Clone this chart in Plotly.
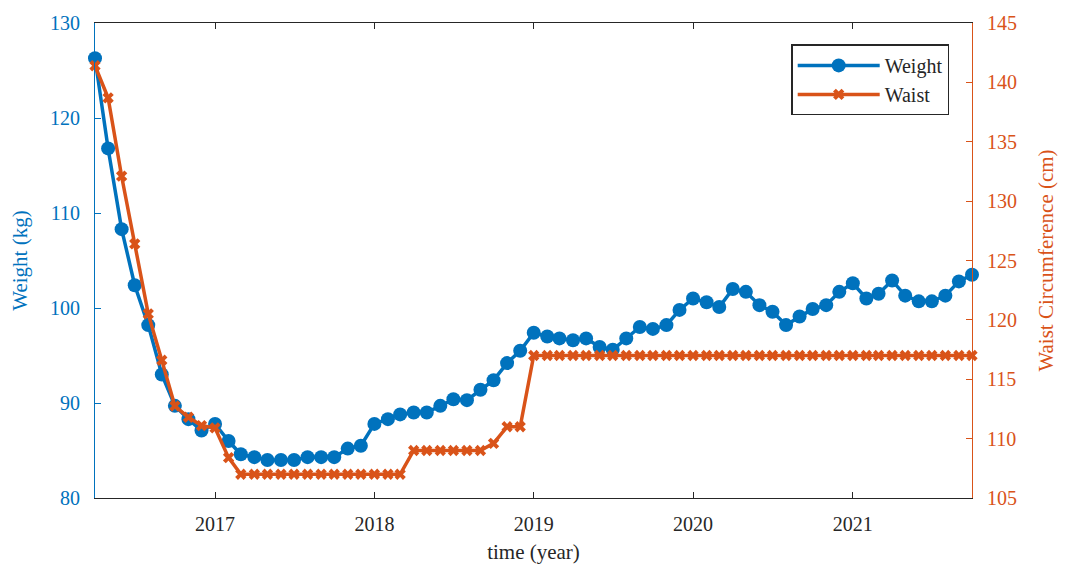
import pandas as pd
import plotly.graph_objects as go

# Monthly observations, April 2016 .. October 2021
months = pd.date_range("2016-04-01", periods=67, freq="MS")

weight_kg = [
    126.3, 116.8, 108.3, 102.4, 98.2, 93.0, 89.7, 88.3, 87.1, 87.8,
    86.0, 84.6, 84.3, 84.0, 84.0, 84.0, 84.3, 84.3, 84.3, 85.2,
    85.5, 87.8, 88.3, 88.8, 89.0, 89.0, 89.7, 90.4, 90.3, 91.4,
    92.4, 94.2, 95.5, 97.4, 97.0, 96.8, 96.6, 96.8, 95.9, 95.6,
    96.8, 98.0, 97.8, 98.2, 99.8, 101.0, 100.6, 100.1, 102.0, 101.7,
    100.3, 99.6, 98.2, 99.1, 99.9, 100.3, 101.7, 102.6, 101.0, 101.5,
    102.9, 101.3, 100.7, 100.7, 101.3, 102.8, 103.5,
]

waist_cm = [
    141.4, 138.7, 132.1, 126.4, 120.5, 116.6, 112.75, 111.8, 111.1, 110.9,
    108.4, 107.0, 107.0, 107.0, 107.0, 107.0, 107.0, 107.0, 107.0, 107.0,
    107.0, 107.0, 107.0, 107.0, 109.0, 109.0, 109.0, 109.0, 109.0, 109.0,
    109.6, 111.0, 111.0, 117.0, 117.0, 117.0, 117.0, 117.0, 117.0, 117.0,
    117.0, 117.0, 117.0, 117.0, 117.0, 117.0, 117.0, 117.0, 117.0, 117.0,
    117.0, 117.0, 117.0, 117.0, 117.0, 117.0, 117.0, 117.0, 117.0, 117.0,
    117.0, 117.0, 117.0, 117.0, 117.0, 117.0, 117.0,
]

year_ticks = ["2017-01-01", "2018-01-01", "2019-01-01", "2020-01-01", "2021-01-01"]
year_labels = ["2017", "2018", "2019", "2020", "2021"]

BLUE = "#0072BD"
ORANGE = "#D95319"
DARK = "#262626"
FONT = "Times New Roman, Liberation Serif, serif"

fig = go.Figure()
fig.add_trace(go.Scatter(
    x=months, y=weight_kg, name="Weight", mode="lines+markers",
    line=dict(color=BLUE, width=3.5),
    marker=dict(symbol="circle", size=14, color=BLUE),
    cliponaxis=False, yaxis="y",
))
fig.add_trace(go.Scatter(
    x=months, y=waist_cm, name="Waist", mode="lines+markers",
    line=dict(color=ORANGE, width=3.5),
    marker=dict(symbol="x", size=10, color=ORANGE),
    cliponaxis=False, yaxis="y2",
))

fig.update_layout(
    width=1066, height=583,
    margin=dict(l=95, r=93, t=18, b=85),
    paper_bgcolor="white", plot_bgcolor="white",
    font=dict(family=FONT, size=20, color=DARK),
    showlegend=True,
    legend=dict(
        x=0.974, y=0.955, xanchor="right", yanchor="top",
        bgcolor="white", bordercolor=DARK, borderwidth=1.5,
        font=dict(family=FONT, size=20, color=DARK),
        itemwidth=82, tracegroupgap=0,
    ),
    xaxis=dict(
        type="date",
        range=["2016-04-01", "2021-10-01"],
        tickvals=year_ticks, ticktext=year_labels,
        showline=True, linecolor=DARK, linewidth=1.2, mirror="ticks",
        ticks="inside", ticklen=6, tickcolor=DARK, tickwidth=1.2,
        ticklabelstandoff=8,
        showgrid=False, zeroline=False,
        tickfont=dict(family=FONT, size=20, color=DARK),
        title=dict(text="time (year)", font=dict(family=FONT, size=21, color=DARK), standoff=10),
    ),
    yaxis=dict(
        range=[80, 130], dtick=10,
        showline=True, linecolor=BLUE, linewidth=1.2,
        ticks="inside", ticklen=6, tickcolor=BLUE, tickwidth=1.2,
        ticklabelstandoff=10,
        showgrid=False, zeroline=False,
        tickfont=dict(family=FONT, size=20, color=BLUE),
        title=dict(text="Weight (kg)", font=dict(family=FONT, size=21, color=BLUE), standoff=16),
    ),
    yaxis2=dict(
        range=[105, 145], dtick=5,
        overlaying="y", side="right",
        showline=True, linecolor=ORANGE, linewidth=1.2,
        ticks="inside", ticklen=6, tickcolor=ORANGE, tickwidth=1.2,
        ticklabelstandoff=10,
        showgrid=False, zeroline=False,
        tickfont=dict(family=FONT, size=20, color=ORANGE),
        title=dict(text="Waist Circumference (cm)", font=dict(family=FONT, size=21, color=ORANGE), standoff=22),
    ),
)

fig.write_html("out.html")
